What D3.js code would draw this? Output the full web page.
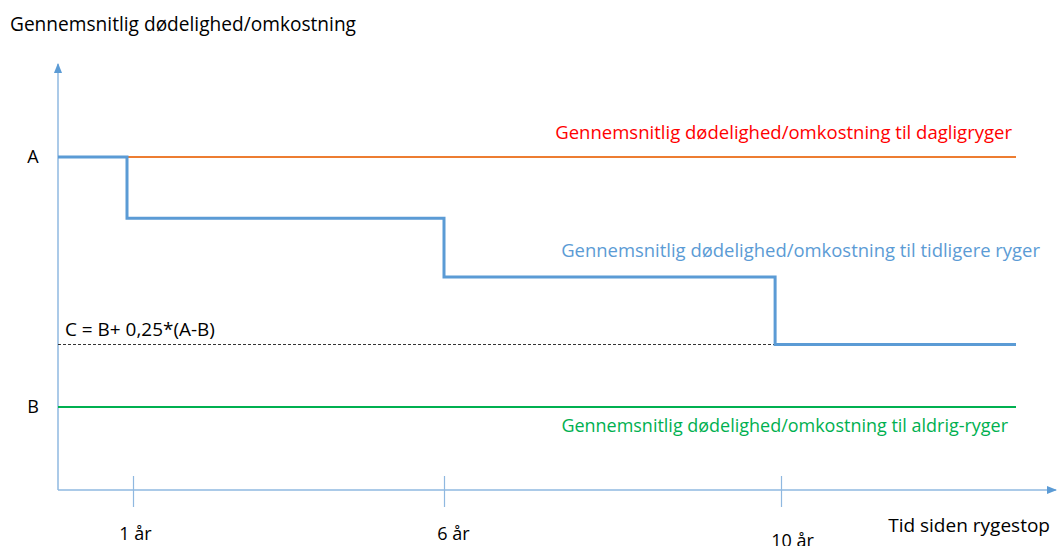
<!DOCTYPE html>
<html><head><meta charset="utf-8">
<script src="https://cdn.jsdelivr.net/npm/d3@7"></script>
<style>body{margin:0;background:#fff}svg{display:block}text{font-family:"Open Sans",Lato,sans-serif}</style>
</head><body><svg id="c" width="1058" height="546"></svg>
<script>
// ---- data ----
const levelNames = ["A", "B"];
const levelValues = [1, 0];                    // A = daily smoker, B = never smoker
const cValue = 0.25;                           // C = B + 0.25*(A-B)
const stepYears = [0, 0.92, 6, 9.93, 14];      // former smoker step times
const stepValues = [1, 0.755, 0.52, 0.25, 0.25];
const tickYears = [1, 6, 10];
const tickLabels = ["1 år", "6 år", "10 år"];
const yTitle = "Gennemsnitlig dødelighed/omkostning";
const xTitle = "Tid siden rygestop";
const seriesLabels = [
  "Gennemsnitlig dødelighed/omkostning til dagligryger",
  "Gennemsnitlig dødelighed/omkostning til tidligere ryger",
  "Gennemsnitlig dødelighed/omkostning til aldrig-ryger"
];
const cLabel = "C = B+ 0,25*(A-B)";

// ---- scales ----
const svg = d3.select("#c");
const x = d3.scaleLinear().domain([0, 1, 6, 10, 14]).range([58, 133, 444, 781, 1016]);
const y = d3.scaleLinear().domain([0, 1]).range([407, 157]);
const xAxisEnd = 1056, yAxisTop = 64, yBase = 490;
const axisCol = "#8fb8e0";

// fit a text element to a target width by adjusting its font size
function fitEl(el, w) {
  const fs = +el.getAttribute("font-size");
  const cw = el.getComputedTextLength();
  if (cw > 0 && w > 0) el.setAttribute("font-size", (fs * w / cw).toFixed(2));
}

// arrow marker
const defs = svg.append("defs");
defs.append("marker").attr("id", "arr").attr("viewBox", "0 0 10 10").attr("refX", 9).attr("refY", 5)
  .attr("markerWidth", 7).attr("markerHeight", 7).attr("orient", "auto")
  .append("path").attr("d", "M0,1 L10,5 L0,9 Z").attr("fill", "#5b9bd5");

// axes
svg.append("line").attr("x1", x(0)).attr("x2", x(0)).attr("y1", yBase).attr("y2", yAxisTop)
  .attr("stroke", axisCol).attr("stroke-width", 1.5).attr("marker-end", "url(#arr)");
svg.append("line").attr("x1", x(0)).attr("x2", xAxisEnd).attr("y1", yBase).attr("y2", yBase)
  .attr("stroke", axisCol).attr("stroke-width", 1.5).attr("marker-end", "url(#arr)");

const xAxis = d3.axisBottom(x).tickValues(tickYears).tickFormat((d, i) => tickLabels[i])
  .tickSizeInner(17).tickSizeOuter(0).tickPadding(0);
const gx = svg.append("g").attr("transform", `translate(0,${yBase})`).call(xAxis);
gx.select(".domain").remove();
gx.selectAll(".tick line").attr("y1", -14).attr("stroke", axisCol).attr("stroke-width", 1.2);
gx.attr("font-family", null).attr("font-size", null);
gx.selectAll(".tick text").attr("fill", "#000").attr("font-size", 18)
  .attr("dy", 0).attr("y", (d, i) => i === 2 ? 57 : 50).attr("dx", (d, i) => [2, 9, 11][i]);

// titles
fitEl(svg.append("text").attr("x", 10).attr("y", 31).attr("font-size", 17).attr("fill", "#000").text(yTitle).node(), 346);
fitEl(svg.append("text").attr("x", 1050).attr("y", 532).attr("text-anchor", "end").attr("font-size", 17).attr("fill", "#000").text(xTitle).node(), 162);

// level labels
svg.selectAll(".lvl").data(levelNames).join("text").attr("class", "lvl")
  .attr("x", 33).attr("y", (d, i) => y(levelValues[i]) + 6).attr("text-anchor", "middle")
  .attr("font-size", 18).attr("fill", "#000").text(d => d);

// A line (orange) and B line (green)
svg.append("line").attr("x1", x(0)).attr("x2", x(14)).attr("y1", y(levelValues[0])).attr("y2", y(levelValues[0]))
  .attr("stroke", "#ed7d31").attr("stroke-width", 2);
svg.append("line").attr("x1", x(0)).attr("x2", x(14)).attr("y1", y(levelValues[1])).attr("y2", y(levelValues[1]))
  .attr("stroke", "#00b050").attr("stroke-width", 2);

// dashed C line
svg.append("line").attr("x1", x(0)).attr("x2", x(stepYears[3])).attr("y1", y(cValue)).attr("y2", y(cValue))
  .attr("stroke", "#333").attr("stroke-width", 1).attr("stroke-dasharray", "3,2");
fitEl(svg.append("text").attr("x", 65).attr("y", y(cValue) - 9).attr("font-size", 17).attr("fill", "#000").text(cLabel).node(), 150);

// step line (former smoker)
const line = d3.line().x((d, i) => x(stepYears[i])).y(d => y(d)).curve(d3.curveStepAfter);
svg.append("path").datum(stepValues).attr("d", line).attr("fill", "none")
  .attr("stroke", "#5b9bd5").attr("stroke-width", 3);

// series labels
const labelCols = ["#ff0000", "#5b9bd5", "#00b050"];
const labelY = [139, 257, 432];
const labelX = [1012, 1040, 1008];
const labelW = [457, 479, 447];
svg.selectAll(".sl").data(seriesLabels).join("text").attr("class", "sl")
  .attr("x", (d, i) => labelX[i]).attr("y", (d, i) => labelY[i]).attr("text-anchor", "end")
  .attr("font-size", 17).attr("fill", (d, i) => labelCols[i]).text(d => d)
  .each(function (d, i) { fitEl(this, labelW[i]); });
</script></body></html>
